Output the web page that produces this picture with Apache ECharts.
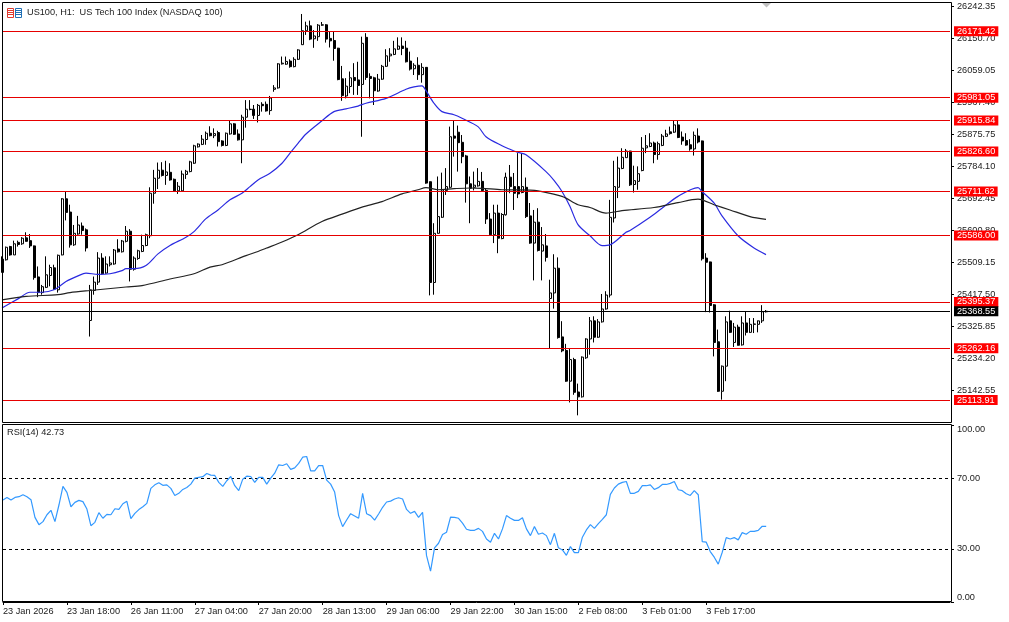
<!DOCTYPE html>
<html><head><meta charset="utf-8"><style>html,body{margin:0;padding:0;background:#fff}#c{width:1009px;height:622px}</style>
<script src="https://cdn.jsdelivr.net/npm/echarts@6/dist/echarts.min.js"></script></head><body><div id="c"></div><script>
const tickLabels=['23 Jan 2026','23 Jan 18:00','26 Jan 11:00','27 Jan 04:00','27 Jan 20:00','28 Jan 13:00','29 Jan 06:00','29 Jan 22:00','30 Jan 15:00','2 Feb 08:00','3 Feb 01:00','3 Feb 17:00'];
const priceTicks=[26242.35,26150.70,26059.05,25967.40,25875.75,25784.10,25692.45,25600.80,25509.15,25417.50,25325.85,25234.20,25142.55];
const rsiTicks=[0,30,70,100];
const redLevels=[26171.42,25981.05,25915.84,25826.60,25711.62,25586.00,25395.37,25262.16,25113.91];
const lastPrice=25368.55;
const opens=[25518,25516,25554,25530,25566,25562,25579,25571,25556,25467,
25422,25437,25471,25493,25430,25530,25691,25653,25559,25590,
25613,25602,25342,25428,25452,25521,25478,25502,25504,25547,
25539,25569,25598,25489,25520,25540,25557,25585,25707,25750,
25773,25758,25767,25747,25714,25714,25761,25769,25793,25840,
25847,25861,25879,25872,25881,25857,25844,25877,25906,25877,
25860,25925,25947,25948,25930,25962,25962,25944,26005,26009,
26078,26077,26086,26070,26091,26133,26173,26187,26150,26156,
26189,26190,26151,26145,26123,26035,25986,26013,26039,26032,
26019,26154,26042,26038,26000,26034,26071,26101,26105,26120,
26129,26123,26086,26064,26074,26047,26068,25740,25451,25592,
25638,25715,25724,25871,25882,25853,25814,25734,25724,25728,
25741,25715,25633,25588,25650,25577,25645,25753,25726,25726,
25709,25724,25642,25564,25624,25541,25556,25405,25421,25492,
25295,25256,25168,25230,25137,25123,25235,25289,25341,25294,
25338,25375,25415,25636,25724,25778,25809,25828,25732,25741,
25772,25837,25841,25851,25818,25844,25870,25883,25882,25903,
25868,25858,25846,25834,25871,25857,25521,25510,25387,25281,
25139,25211,25341,25279,25323,25272,25335,25308,25331,25331,25341,25367];
const closes=[25480,25552,25530,25562,25560,25578,25569,25556,25465,25422,
25439,25473,25494,25432,25529,25691,25652,25559,25592,25616,
25600,25550,25430,25452,25521,25476,25504,25507,25544,25539,
25570,25598,25489,25521,25542,25557,25588,25707,25750,25773,
25758,25768,25745,25714,25727,25762,25770,25797,25843,25848,
25862,25879,25872,25878,25855,25844,25879,25906,25876,25860,
25925,25948,25948,25930,25959,25958,25943,25980,26009,26078,
26080,26085,26070,26091,26118,26173,26187,26149,26158,26189,
26190,26149,26144,26122,26033,25987,26014,26038,26030,26016,
26137,26039,26036,26001,26034,26071,26101,26106,26121,26129,
26122,26084,26063,26074,26047,26068,25736,25451,25592,25640,
25717,25726,25869,25865,25852,25812,25734,25721,25730,25741,
25715,25633,25588,25650,25578,25646,25753,25726,25707,25705,
25726,25640,25564,25624,25543,25559,25523,25421,25492,25293,
25255,25168,25230,25136,25123,25237,25289,25341,25294,25338,
25375,25415,25638,25726,25779,25810,25828,25731,25743,25763,
25836,25843,25851,25818,25849,25871,25877,25878,25903,25867,
25857,25845,25834,25873,25854,25519,25509,25385,25279,25139,
25211,25338,25308,25323,25271,25335,25308,25331,25332,25341,25367,25368.55];
const lows=[25480,25514,25528,25530,25554,25559,25568,25550,25459,25409,
25416,25435,25440,25430,25422,25529,25629,25551,25556,25588,
25588,25540,25296,25416,25444,25473,25476,25497,25502,25537,
25537,25566,25454,25485,25516,25538,25555,25578,25677,25719,
25755,25731,25743,25712,25705,25712,25748,25767,25791,25838,
25845,25846,25870,25865,25841,25841,25842,25875,25874,25858,
25793,25895,25945,25920,25910,25941,25941,25932,25998,26007,
26076,26075,26067,26068,26089,26132,26161,26146,26124,26144,
26187,26139,26125,26087,26031,25972,25979,25994,25989,25989,
25869,26032,25979,25960,25998,26032,26069,26084,26103,26118,
26103,26082,26059,26046,26032,26024,25734,25414,25416,25591,
25636,25702,25721,25812,25769,25793,25680,25621,25715,25726,
25712,25619,25586,25564,25535,25575,25643,25707,25659,25693,
25707,25636,25562,25457,25540,25457,25511,25263,25376,25290,
25251,25166,25107,25129,25070,25121,25232,25244,25279,25292,
25336,25373,25408,25623,25693,25776,25808,25728,25709,25717,
25770,25822,25839,25793,25803,25842,25868,25875,25880,25865,
25846,25843,25829,25815,25850,25514,25366,25365,25239,25137,
25115,25168,25306,25266,25270,25270,25299,25306,25306,25308,25335,25365];
const highs=[25526,25554,25556,25571,25571,25581,25595,25590,25557,25497,
25444,25526,25502,25502,25531,25693,25712,25674,25616,25642,
25623,25606,25444,25468,25538,25535,25526,25526,25547,25575,
25573,25613,25604,25526,25545,25588,25591,25724,25774,25795,
25796,25800,25793,25749,25739,25772,25774,25800,25846,25850,
25874,25884,25899,25893,25886,25859,25881,25915,25908,25890,
25932,25974,25974,25960,25963,25968,25970,25986,26017,26080,
26099,26099,26091,26097,26120,26221,26199,26202,26175,26192,
26198,26192,26170,26170,26124,26072,26037,26056,26080,26084,
26156,26166,26051,26041,26049,26075,26120,26123,26144,26154,
26154,26144,26113,26080,26097,26080,26069,25741,25621,25755,
25766,25779,25898,25915,25901,25874,25817,25755,25769,25779,
25768,25721,25650,25674,25674,25650,25766,25788,25765,25822,
25822,25752,25679,25659,25664,25610,25590,25459,25532,25523,
25340,25275,25263,25235,25161,25239,25291,25352,25354,25346,
25418,25426,25688,25800,25812,25836,25834,25829,25786,25784,
25868,25874,25879,25855,25855,25877,25889,25898,25915,25915,
25884,25879,25862,25884,25893,25858,25535,25511,25389,25316,
25213,25354,25370,25335,25330,25354,25368,25349,25349,25342,25386,25372];
const maBlueBars=[0,4,7,10,13,16,19,21,24,27,30,31,33,36,39,42,46,48,51,54,57,60,62,64,67,70,72,74,76,80,83,86,89,91,96,101,103,105,106,108,110,113,115,119,121,125,127,129,131,136,138,140,142,144,147,150,152,156,157,162,165,169,174,175,178,180,184,188,191];
const maBlue=[25378,25404,25423,25423,25430,25454,25470,25478,25474,25476,25485,25491,25491,25500,25533,25557,25581,25597,25634,25659,25688,25707,25726,25745,25764,25793,25822,25850,25877,25915,25941,25949,25957,25965,25979,26005,26012,26015,26001,25965,25941,25932,25922,25898,25869,25843,25833,25824,25817,25769,25744,25712,25669,25617,25585,25557,25559,25595,25600,25638,25664,25698,25723,25712,25679,25642,25585,25550,25531];
const maBlackBars=[0,6,14,17,22,31,35,42,48,52,55,61,64,66,70,74,80,85,90,95,100,104,106,109,113,117,120,125,132,134,140,144,147,151,155,163,169,174,178,182,187,191];
const maBlack=[25401,25411,25416,25422,25428,25438,25442,25461,25476,25495,25502,25528,25540,25549,25567,25588,25626,25647,25667,25683,25705,25717,25723,25717,25720,25722,25721,25717,25716,25714,25698,25674,25666,25650,25657,25666,25680,25690,25674,25659,25640,25632];
const rsi=[57.6,59.1,57.6,59.1,59.5,60.6,59.5,57.8,47.8,43.7,45.4,49.3,51.8,45.4,54.8,65.3,61.9,53.8,56.3,57.4,56.7,52.5,43.1,45.0,50.5,47.3,49.5,49.3,52.7,52.3,55.5,56.9,47.1,50.1,52.2,53.8,55.7,64.2,66.2,67.4,65.9,66.2,64.2,60.2,61.4,63.6,64.7,66.6,70.0,70.4,70.8,72.6,71.7,71.5,67.6,65.3,68.5,70.9,65.7,62.9,69.4,71.1,70.9,67.6,70.4,70.4,66.6,70.0,72.8,77.5,77.1,78.1,74.9,75.8,78.3,81.8,82.2,74.1,74.1,77.1,77.1,68.9,66.6,62.1,48.8,42.6,46.3,49.9,48.6,47.3,61.4,49.9,48.8,46.3,49.7,53.5,56.5,57.0,58.2,58.9,
58.2,52.3,50.1,51.2,47.8,50.7,26.2,17.4,30.6,33.2,38.1,39.4,48.0,47.8,47.3,44.6,41.1,40.5,40.5,41.6,39.9,35.6,33.8,38.8,35.6,41.3,48.8,47.3,46.1,46.1,47.6,41.3,37.5,42.6,38.3,39.0,37.5,32.4,38.8,30.6,29.4,26.4,31.3,27.9,27.9,36.6,40.7,43.7,41.6,44.3,46.7,49.3,60.8,64.4,66.6,67.6,68.1,61.4,61.4,62.5,65.7,65.7,66.2,63.6,64.6,66.4,66.4,67.0,68.1,63.4,62.9,61.2,60.2,62.9,60.6,34.1,33.8,28.5,25.3,21.4,28.1,36.4,35.6,36.4,35.1,39.2,38.3,39.9,39.9,40.5,42.8,42.73];

const FONT='"Liberation Sans"', FS=9.2, TXT='#1a1a1a';
const slots=238;
const categories=Array.from({length:slots},(_,i)=>(i%16===0&&tickLabels[i/16])||'');
const showTick=i=>i%16===0&&i<tickLabels.length*16;
const candles=opens.map((o,i)=>[o,closes[i],lows[i],highs[i]]);
const tag=(v,bg)=>({yAxis:v,lineStyle:{color:bg==='#000'?'#000':'#e60000',width:1,type:'solid'},
  label:{show:true,position:'end',distance:4,formatter:v.toFixed(2),color:'#fff',backgroundColor:bg,fontFamily:FONT,fontSize:FS,
    padding:[1,3,0,3],align:'left',verticalAlign:'middle'}});
const chart=echarts.init(document.getElementById('c'),null,{renderer:'canvas'});
const icon=[];
[[7.5,'#e03a2e'],[15.5,'#1f6fb5']].forEach(([x,c])=>{
  icon.push({type:'rect',shape:{x:x,y:8.5,width:6,height:9},style:{fill:'#fff',stroke:c,lineWidth:1}});
  [10.5,12.5,14.5].forEach(y=>icon.push({type:'line',shape:{x1:x,y1:y,x2:x+6,y2:y},style:{stroke:c,lineWidth:1}}));
});
const frame=(y,h)=>({type:'rect',z:50,shape:{x:2.5,y:y,width:949,height:h},style:{fill:'none',stroke:'#000',lineWidth:1}});
chart.setOption({
  animation:false,backgroundColor:'#fff',
  grid:[{left:2,width:948,top:2,height:420,show:false},
        {left:2,width:948,top:425,height:177,show:false}],
  xAxis:[{type:'category',gridIndex:0,data:categories,boundaryGap:false,show:false},
         {type:'category',gridIndex:1,data:categories,boundaryGap:false,
          axisLine:{lineStyle:{color:'#000'}},axisTick:{interval:showTick,length:3,lineStyle:{color:'#000'}},
          axisLabel:{interval:showTick,align:'left',margin:5,color:TXT,fontFamily:FONT,fontSize:FS,hideOverlap:false},splitLine:{show:false}}],
  yAxis:[{type:'value',gridIndex:0,position:'right',offset:1,min:25050.9,max:26255.4,scale:true,
          axisLine:{show:false},
          axisTick:{show:true,length:3,customValues:priceTicks,lineStyle:{color:'#000'}},
          axisLabel:{customValues:priceTicks,formatter:v=>v.toFixed(2),margin:6,color:TXT,fontFamily:FONT,fontSize:FS,showMinLabel:true,showMaxLabel:true},splitLine:{show:false}},
         {type:'value',gridIndex:1,position:'right',offset:1,min:0,max:100,
          axisLine:{show:false},
          axisTick:{show:true,length:3,customValues:rsiTicks,lineStyle:{color:'#000'}},
          axisLabel:{customValues:rsiTicks,formatter:v=>v.toFixed(2),margin:6,color:TXT,fontFamily:FONT,fontSize:FS,verticalAlignMinLabel:'bottom',verticalAlignMaxLabel:'top'},splitLine:{show:false}}],
  series:[
    {type:'candlestick',xAxisIndex:0,yAxisIndex:0,data:candles,barWidth:2.5,silent:true,clip:true,
     itemStyle:{color:'#fff',color0:'#000',borderColor:'#000',borderColor0:'#000',borderWidth:1},
     markLine:{silent:true,symbol:'none',animation:false,z:20,data:[...redLevels.map(v=>tag(v,'#ff0000')),tag(lastPrice,'#000')]}},
    {type:'line',xAxisIndex:0,yAxisIndex:0,data:maBlueBars.map((b,i)=>[b,maBlue[i]]),showSymbol:false,smooth:0.3,silent:true,z:5,lineStyle:{color:'#2a2ae0',width:1.2}},
    {type:'line',xAxisIndex:0,yAxisIndex:0,data:maBlackBars.map((b,i)=>[b,maBlack[i]]),showSymbol:false,smooth:0.3,silent:true,z:5,lineStyle:{color:'#222',width:1.2}},
    {type:'line',xAxisIndex:1,yAxisIndex:1,data:rsi,showSymbol:false,silent:true,z:5,lineStyle:{color:'#3399ff',width:1.2},
     markLine:{silent:true,symbol:'none',animation:false,label:{show:false},lineStyle:{color:'#000',width:1,type:[3,3]},data:[{yAxis:70},{yAxis:30}]}}
  ],
  graphic:[...icon,frame(2.5,420),frame(424.5,177),
    {type:'text',left:27,top:8,style:{text:'US100, H1:  US Tech 100 Index (NASDAQ 100)',fill:TXT,font:FS+'px '+FONT}},
    {type:'text',left:7,top:428,style:{text:'RSI(14) 42.73',fill:TXT,font:FS+'px '+FONT}},
    {type:'polygon',shape:{points:[[762,3],[771,3],[766.5,7.5]]},style:{fill:'#c0c0c0'}}
  ]
});
</script></body></html>
